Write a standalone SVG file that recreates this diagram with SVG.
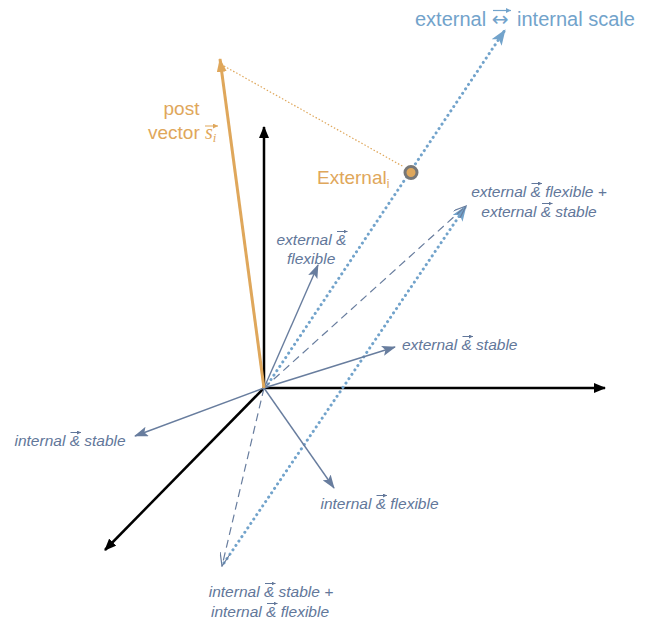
<svg xmlns="http://www.w3.org/2000/svg" width="650" height="620" viewBox="0 0 650 620">
<style>
.ax{stroke:#000;stroke-width:2.5;fill:none}
.or{stroke:#dfa75b;stroke-width:3;fill:none}
.sl{stroke:#687d9e;stroke-width:1.4;fill:none}
.da{stroke:#687d9e;stroke-width:1.2;fill:none;stroke-dasharray:8 5}
.dt{stroke:#72a3cb;stroke-width:3;fill:none;stroke-dasharray:0.1 5.2;stroke-linecap:round}
.od{stroke:#dfa75b;stroke-width:1.2;fill:none;stroke-dasharray:1.5 2}
.lab{font-family:"Liberation Sans",Arial,sans-serif;font-style:italic;font-size:15.5px;fill:#62779a}
.ot{font-family:"Liberation Sans",Arial,sans-serif;font-size:19px;fill:#dfa75b}
.bt{font-family:"Liberation Sans",Arial,sans-serif;font-size:20px;fill:#72a3cb}
.oa{stroke:#62779a;stroke-width:1;fill:none}
</style>
<defs>
<marker id="mk" viewBox="0 0 12 10" refX="11" refY="5" markerWidth="12" markerHeight="10" markerUnits="userSpaceOnUse" orient="auto"><path d="M0,0 L12,5 L0,10 z" fill="#000"/></marker>
<marker id="mo" viewBox="0 0 14 10" refX="13" refY="5" markerWidth="14" markerHeight="10" markerUnits="userSpaceOnUse" orient="auto"><path d="M0,0 L14,5 L0,10 z" fill="#dfa75b"/></marker>
<marker id="ms" viewBox="0 0 14 10" refX="13" refY="5" markerWidth="14" markerHeight="10" markerUnits="userSpaceOnUse" orient="auto"><path d="M0,0 L14,5 L0,10 L3,5 z" fill="#687d9e"/></marker>
<marker id="mv" viewBox="0 0 14 10" refX="13" refY="5" markerWidth="14" markerHeight="10" markerUnits="userSpaceOnUse" orient="auto"><path d="M0,0 L13,5 L0,10" fill="none" stroke="#687d9e" stroke-width="1.2"/></marker>
<marker id="mb" viewBox="0 0 16 12" refX="15" refY="6" markerWidth="16" markerHeight="12" markerUnits="userSpaceOnUse" orient="auto"><path d="M0,0 L16,6 L0,12 L4,6 z" fill="#72a3cb"/></marker>
<marker id="ma" viewBox="0 0 6 6" refX="6" refY="3" markerWidth="4" markerHeight="4" markerUnits="userSpaceOnUse" orient="auto"><path d="M0,0 L6,3 L0,6 z" fill="#62779a"/></marker>
<marker id="mab" viewBox="0 0 6 6" refX="6" refY="3" markerWidth="5" markerHeight="5" markerUnits="userSpaceOnUse" orient="auto"><path d="M0,0 L6,3 L0,6 z" fill="#72a3cb"/></marker>
<marker id="mao" viewBox="0 0 6 6" refX="6" refY="3" markerWidth="5" markerHeight="5" markerUnits="userSpaceOnUse" orient="auto"><path d="M0,0 L6,3 L0,6 z" fill="#dfa75b"/></marker>
</defs>
<g id="connectors">
<line class="ax" x1="264" y1="388" x2="264" y2="127" marker-end="url(#mk)"/>
<line class="ax" x1="264" y1="388" x2="605" y2="388" marker-end="url(#mk)"/>
<line class="ax" x1="264" y1="388" x2="105" y2="550" marker-end="url(#mk)"/>
<line class="dt" x1="268" y1="384" x2="505" y2="30" marker-end="url(#mb)"/>
<line class="dt" x1="224" y1="563" x2="466" y2="206" marker-end="url(#mb)"/>
<line class="da" x1="264" y1="388" x2="466" y2="206" marker-end="url(#mv)"/>
<line class="da" x1="264" y1="388" x2="222" y2="566" marker-end="url(#mv)"/>
<line class="sl" x1="264" y1="388" x2="318" y2="265" marker-end="url(#ms)"/>
<line class="sl" x1="264" y1="388" x2="395" y2="347" marker-end="url(#ms)"/>
<line class="sl" x1="264" y1="388" x2="135" y2="436" marker-end="url(#ms)"/>
<line class="sl" x1="264" y1="388" x2="334" y2="488" marker-end="url(#ms)"/>
<line class="od" x1="224" y1="66" x2="404" y2="167"/>
<line class="or" x1="264" y1="388" x2="220" y2="59" marker-end="url(#mo)"/>
</g>
<g id="external-i">
<circle cx="411" cy="172.5" r="6" fill="#dfa75b" stroke="#777" stroke-width="3"/>
<text class="ot" x="317" y="184">External<tspan font-size="12" dy="4">i</tspan></text>
</g>
<g id="post-vector">
<text class="ot" x="181.5" y="115" text-anchor="middle">post</text>
<text class="ot" x="148" y="139">vector <tspan font-family="'Liberation Serif',serif" font-style="italic" font-size="20">s</tspan><tspan font-family="'Liberation Serif',serif" font-style="italic" font-size="13" dy="3">i</tspan></text>
<line stroke="#dfa75b" stroke-width="1" x1="205" y1="126" x2="218" y2="126" marker-end="url(#mao)"/>
</g>
<g id="scale-label">
<text class="bt" x="415" y="26">external <tspan font-family="'DejaVu Sans',sans-serif" font-size="20">↔</tspan><tspan dx="3"> internal scale</tspan></text>
<line stroke="#72a3cb" stroke-width="1.2" x1="493" y1="10.5" x2="511" y2="10.5" marker-end="url(#mab)"/>
</g>
<g id="ext-flex-plus-ext-stable">
<text class="lab" x="539" y="197" text-anchor="middle">external &amp; flexible +</text>
<text class="lab" x="539" y="217" text-anchor="middle">external &amp; stable</text>
<line class="oa" x1="531.5" y1="183.5" x2="542" y2="183.5" marker-end="url(#ma)"/>
<line class="oa" x1="542" y1="203.5" x2="552.5" y2="203.5" marker-end="url(#ma)"/>
</g>
<g id="ext-flex">
<text class="lab" x="276.5" y="245">external &amp;</text>
<text class="lab" x="287" y="264">flexible</text>
<line class="oa" x1="337" y1="231.5" x2="347.5" y2="231.5" marker-end="url(#ma)"/>
</g>
<g id="ext-stable">
<text class="lab" x="402" y="350">external &amp; stable</text>
<line class="oa" x1="462.5" y1="336.5" x2="473" y2="336.5" marker-end="url(#ma)"/>
</g>
<g id="int-stable">
<text class="lab" x="14.5" y="446">internal &amp; stable</text>
<line class="oa" x1="70.5" y1="432.5" x2="81" y2="432.5" marker-end="url(#ma)"/>
</g>
<g id="int-flex">
<text class="lab" x="320.5" y="509">internal &amp; flexible</text>
<line class="oa" x1="376.5" y1="495.5" x2="387" y2="495.5" marker-end="url(#ma)"/>
</g>
<g id="int-stable-plus-int-flex">
<text class="lab" x="271" y="597" text-anchor="middle">internal &amp; stable +</text>
<text class="lab" x="270" y="617" text-anchor="middle">internal &amp; flexible</text>
<line class="oa" x1="265" y1="583.5" x2="275.5" y2="583.5" marker-end="url(#ma)"/>
<line class="oa" x1="267" y1="603.5" x2="277.5" y2="603.5" marker-end="url(#ma)"/>
</g>
</svg>
